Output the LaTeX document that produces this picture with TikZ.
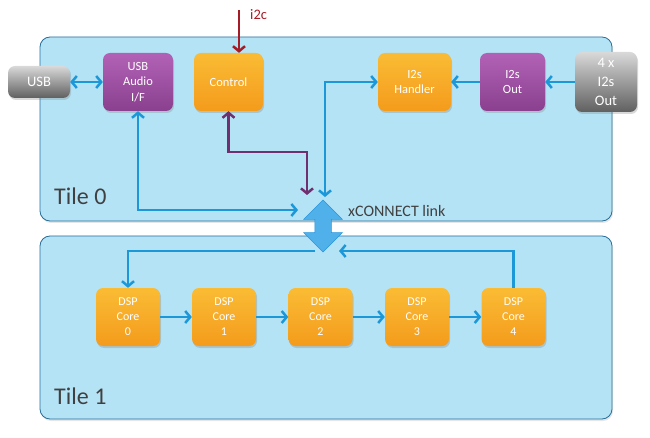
\documentclass[tikz,border=0pt]{standalone}
\usepackage{fontspec}
\setmainfont{Carlito}
\usetikzlibrary{positioning, arrows.meta, shapes.arrows, shadows}

\definecolor{tilefill}{RGB}{181,227,246}
\definecolor{tileline}{RGB}{40,110,150}
\definecolor{tiletext}{RGB}{64,64,64}
\definecolor{linkblue}{RGB}{28,152,216}
\definecolor{ctrlpurple}{RGB}{112,48,112}
\definecolor{i2cred}{RGB}{165,28,38}
\definecolor{boxorange}{RGB}{244,155,28}
\definecolor{boxorangetop}{RGB}{250,188,52}
\definecolor{boxpurple}{RGB}{138,64,142}
\definecolor{boxpurpletop}{RGB}{178,98,182}
\definecolor{xlinklight}{RGB}{130,210,248}
\definecolor{xlinkdark}{RGB}{40,150,222}

\begin{document}
\begin{tikzpicture}[x=1pt, y=-1pt, >={Straight Barb[length=5pt,width=12pt]},
    tile/.style={draw=tileline, fill=tilefill, line width=0.8pt, rounded corners=10pt,
        minimum width=572pt, drop shadow={shadow xshift=1pt, shadow yshift=-2pt, opacity=0.2}},
    block/.style={rounded corners=7pt, inner sep=0pt, align=center, text=white,
        font=\fontsize{12.5}{15.5}\selectfont,
        drop shadow={shadow xshift=1pt, shadow yshift=-2pt, opacity=0.3}},
    orangebox/.style={block, top color=boxorangetop, bottom color=boxorange,
        minimum width=69pt, minimum height=58pt},
    purplebox/.style={block, top color=boxpurpletop, bottom color=boxpurple,
        minimum width=67pt, minimum height=58pt},
    greybox/.style={block, top color=gray!30, bottom color=gray!75!black,
        font=\fontsize{14.5}{19}\selectfont},
    corebox/.style={orangebox, minimum width=64pt, font=\fontsize{12}{15}\selectfont},
    link/.style={draw=linkblue, line width=2.5pt},
    ctrl/.style={draw=ctrlpurple, line width=2.5pt},
    i2cline/.style={draw=i2cred, line width=2.5pt},
    tilelabel/.style={font=\fontsize{24}{24}\selectfont, text=tiletext, anchor=base west, inner sep=0pt}
]
\useasboundingbox (0,0) rectangle (650,438);

% tiles
\node[tile, minimum height=184pt] (tile0) at (326,129) {};
\node[tile, minimum height=183pt] (tile1) at (326,327.5) {};
\node[tilelabel] (t0) at (54,205) {Tile 0};
\node[tilelabel] (t1) at (54,404) {Tile 1};

% free ends
\coordinate (i2c) at (239,10);
\coordinate (ctrlin) at (307,195);
\coordinate (usbin) at (298,210);
\coordinate (hdlin) at (325,197);
\coordinate (xout) at (315,251);
\coordinate (xret) at (339,251);

% tile 0
\node[greybox, minimum width=62pt, minimum height=32pt] (usb) at (39,82) {USB};
\node[purplebox, minimum width=70pt] (usbif) at (138,82) {USB\\Audio\\I/F};
\node[orangebox] (control) at (228.5,82) {Control};
\node[orangebox, minimum width=73pt] (handler) at (414.5,82) {I2s\\Handler};
\node[purplebox, minimum width=65pt] (i2sout) at (512.5,82) {I2s\\Out};
\node[greybox, minimum width=62pt, minimum height=60pt] (ext) at (606,82) {4 x\\I2s\\Out};
\node[anchor=base west, inner sep=0pt, text=i2cred, font=\fontsize{14.5}{14.5}\selectfont] (i2clabel) at (250,20) {i2c};

% tile 1
\foreach \i/\x in {0/128,1/224,2/320.5,3/417,4/513.5}
    \node[corebox] (core\i) at (\x,317) {DSP\\Core\\\i};

\draw[link,<->] (usb) -- (usbif);
\draw[link,->] (ext) -- (i2sout);
\draw[link,->] (i2sout) -- (handler);
\draw[i2cline,->] (i2c) -- (i2c |- control.north);
\draw[link,<->] (handler.west) -| (hdlin);
\draw[ctrl,<->] (control.south) -- ++(0,41) -| (ctrlin);
\draw[link,<->] (usbif.south) |- (usbin);
\draw[link,->] (xout) -| (core0.north);
\draw[link,->] (core4.north) |- (xret);
\foreach \i [evaluate=\i as \j using int(\i+1)] in {0,...,3}
    \draw[link,->] (core\i) -- (core\j);

% xCONNECT
\node[double arrow, rotate=90, minimum height=52pt, minimum width=38pt, inner sep=8pt,
    double arrow head extend=11pt, fill=xlinklight!45!xlinkdark, draw=xlinkdark, line width=0.5pt] (xlink) at (323,226) {};
\node[anchor=base west, inner sep=0pt, text=tiletext, font=\fontsize{16}{16}\selectfont] (xlabel) at (348,217) {xCONNECT link};
\end{tikzpicture}
\end{document}
